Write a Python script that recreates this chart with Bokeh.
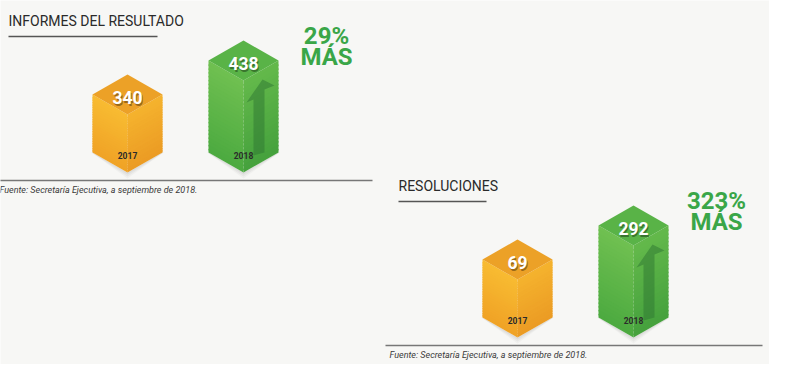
import numpy as np
from bokeh.plotting import figure
from bokeh.models import Range1d
from bokeh.core.properties import value
from bokeh.embed import file_html
from bokeh.resources import INLINE

# ---------------- data ----------------
panel_titles = ["INFORMES DEL RESULTADO", "RESOLUCIONES"]
years = ["2017", "2018"]
informes = [340, 438]
resoluciones = [69, 292]
more_word = "MÁS"
source_note = "Fuente: Secretaría Ejecutiva, a septiembre de 2018."

panel_values = [informes, resoluciones]

# ---------------- layout / style ----------------
W, H = 769, 364
FONT = "Roboto"
panel_offsets = [(0, 0), (390, 165)]
rule_len = [149, 88]
prism_cx = [127, 243]
prism_bottom = 172
half_w, slope = 35, 20
h_short, h_tall = 98, 132

pal = {
    "2017": dict(top="#eca127", f1="#f8bc32", f2="#f0a226", r1="#f5b32e", r2="#eb9b24"),
    "2018": dict(top="#59b347", f1="#70c051", f2="#4caa40", r1="#64b94b", r2="#45a13d"),
}

p = figure(width=W, height=H, x_range=Range1d(0, W), y_range=Range1d(H, 0),
           output_backend="svg", toolbar_location=None, min_border=0,
           x_axis_type=None, y_axis_type=None)
p.grid.visible = False
p.outline_line_color = None
p.background_fill_color = "#f7f7f5"
p.border_fill_color = "#f7f7f5"


def hex2rgb(h):
    h = h.lstrip("#")
    return np.array([int(h[i:i + 2], 16) for i in (0, 2, 4)], dtype=float)


def mix(c1, c2, t):
    c = hex2rgb(c1) * (1 - t) + hex2rgb(c2) * t
    return "#%02x%02x%02x" % tuple(int(round(v)) for v in c)


def face(xa, xb, ya_t, yb_t, ya_b, yb_b, c1, c2, n=24):
    xs, ys, cols = [], [], []
    for i in range(n):
        t0, t1 = i / n, (i + 1) / n
        a0 = ya_t + (ya_b - ya_t) * t0
        a1 = ya_t + (ya_b - ya_t) * t1
        b0 = yb_t + (yb_b - yb_t) * t0
        b1 = yb_t + (yb_b - yb_t) * t1
        ext = 1.5 if i < n - 1 else 0.0
        xs.append([xa, xb, xb, xa])
        ys.append([a0, b0, b1 + ext, a1 + ext])
        cols.append(mix(c1, c2, (t0 + t1) / 2))
    p.patches(xs, ys, fill_color=cols, line_color=None)


def text(x, y, s, size, color, style="normal", align="center", alpha=1.0):
    p.text(x=[x], y=[y], text=[s], text_font=value(FONT), text_font_size=f"{size}px",
           text_font_style=style, text_color=color, text_align=align,
           text_baseline="middle", text_alpha=alpha)


for k, (title, vals) in enumerate(zip(panel_titles, panel_values)):
    ox, oy = panel_offsets[k]
    vmax = max(vals)
    # title + rule
    text(8 + ox, 20.5 + oy, title, 14, "#2a2a2a", align="left")
    p.line([8 + ox, 8 + ox + rule_len[k]], [36 + oy, 36 + oy], line_color="#555555", line_width=1.6)

    for j, (yr, v) in enumerate(zip(years, vals)):
        cx = prism_cx[j] + ox
        yb = prism_bottom + oy
        hh = h_tall if v == vmax else h_short
        yt = yb - hh
        c = pal[yr]
        # soft shadow
        for dd, a in [(6, 0.05), (4, 0.07), (2, 0.08)]:
            p.patch([cx - half_w - 1, cx, cx + half_w + 1, cx + half_w, cx, cx - half_w],
                    [yb - slope, yb + dd, yb - slope, yb - slope, yb, yb - slope],
                    fill_color="#777777", fill_alpha=a, line_color=None)
        # front-left face
        face(cx - half_w, cx, yt + slope, yt + 2 * slope, yb - slope, yb, c["f1"], c["f2"])
        # front-right face
        face(cx, cx + half_w, yt + 2 * slope, yt + slope, yb, yb - slope, c["r1"], c["r2"])
        # top face
        p.patch([cx, cx + half_w, cx, cx - half_w], [yt, yt + slope, yt + 2 * slope, yt + slope],
                fill_color=c["top"], line_color=None)
        # upward arrow on the larger value
        if v == vmax:
            ax = [10, 10, 3, 19, 31, 21, 21]
            ay = [-17, -73, -70, -93, -87, -83, -20]
            p.patch([cx + a for a in ax], [yb + b for b in ay],
                    fill_color="#2e7531", fill_alpha=0.5, line_color=None)
        # value label with shadow
        text(cx + 1, yt + 24.5, f"{v}", 17.5, "#000000", style="bold", alpha=0.35)
        text(cx, yt + 23, f"{v}", 17.5, "#ffffff", style="bold")
        # year label
        text(cx, yb - 17, yr, 8.5, "#2b2b2b", style="bold")

    # percentage increase
    pct = round((vals[1] - vals[0]) / vals[0] * 100)
    text(326 + ox, 35 + oy, f"{pct}%", 24, "#3aa648", style="bold")
    text(326 + ox, 56 + oy, more_word, 24, "#3aa648", style="bold")

    # source rule + note
    p.line([-5 + ox, 372 + ox], [180 + oy, 180 + oy], line_color="#777777", line_width=1.3)
    text(-1 + ox, 189.5 + oy, source_note, 9, "#3a3a3a", style="italic", align="left")

open("out.html", "w").write(file_html(p, INLINE))
